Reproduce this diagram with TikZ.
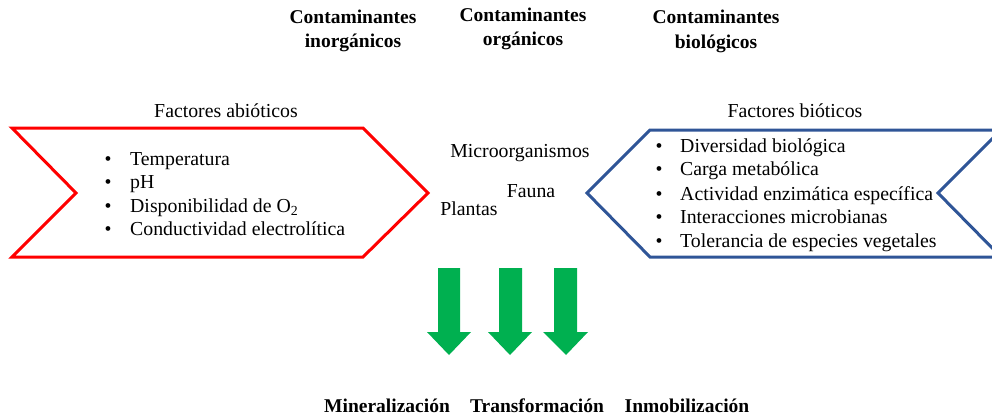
\documentclass[tikz,border=0pt]{standalone}
\usepackage{fontspec}
\setmainfont{Liberation Serif}
\definecolor{redline}{HTML}{FF0000}
\definecolor{blueline}{HTML}{2F5597}
\definecolor{arrowgreen}{HTML}{00B050}
\tikzset{
  txt/.style={inner sep=0pt, anchor=base, font=\fontsize{19.8}{23}\selectfont},
  hdr/.style={txt, font=\fontsize{19.5}{23}\selectfont\bfseries},
  item/.style={txt, anchor=base west},
  bul/.style={txt},
  chevred/.style={draw=redline, line width=3pt, line join=miter},
  chevblue/.style={draw=blueline, line width=3pt, line join=miter},
  greenarrow/.style={fill=arrowgreen, draw=none}
}
\begin{document}
\begin{tikzpicture}[x=1pt,y=-1pt]
\useasboundingbox (0,0) rectangle (992,418);
\clip (0,0) rectangle (992,418);

% headers
\node[hdr] (h1a) at (353,23) {Contaminantes};
\node[hdr] (h1b) at (353,47) {inorgánicos};
\node[hdr] (h2a) at (523,21) {Contaminantes};
\node[hdr] (h2b) at (523,45) {orgánicos};
\node[hdr] (h3a) at (716,23) {Contaminantes};
\node[hdr] (h3b) at (716,48) {biológicos};

% titles
\node[txt] (fab) at (226,117) {Factores abióticos};
\node[txt] (fbi) at (795,117) {Factores bióticos};

% left chevron
\draw[chevred] (12,128) -- (363,128) -- (428,193) -- (363,257) -- (12,257) -- (76,193) -- cycle;
% right chevron
\draw[chevblue] (650,130) -- (1001,130) -- (938,193) -- (1001,257) -- (650,257) -- (587,193) -- cycle;

% left list
\foreach \t/\y [count=\i] in {Temperatura/165, pH/188, {Disponibilidad de O\textsubscript{2}}/212, Conductividad electrolítica/235}{
  \node[bul] (lb\i) at (108,\y) {•};
  \node[item] (li\i) at (130,\y) {\t};
}
% right list
\foreach \t/\y [count=\i] in {Diversidad biológica/152, Carga metabólica/175, Actividad enzimática específica/200, Interacciones microbianas/223, Tolerancia de especies vegetales/247}{
  \node[bul] (rb\i) at (659,\y) {•};
  \node[item] (ri\i) at (680,\y) {\t};
}

% middle
\node[txt] (micro) at (520,157) {Microorganismos};
\node[txt] (fauna) at (531,197) {Fauna};
\node[txt] (plant) at (469,215) {Plantas};

% arrows
\fill[greenarrow] (438,268) -- (460,268) -- (460,332) -- (471,332) -- (449,355) -- (427,332) -- (438,332) -- cycle;
\fill[greenarrow] (499,268) -- (522,268) -- (522,332) -- (532,332) -- (510,355) -- (488,332) -- (499,332) -- cycle;
\fill[greenarrow] (554,268) -- (577,268) -- (577,332) -- (588,332) -- (566,355) -- (543,332) -- (554,332) -- cycle;

% bottom
\node[hdr] (min) at (387,412) {Mineralización};
\node[hdr] (tra) at (537,412) {Transformación};
\node[hdr] (inm) at (687,412) {Inmobilización};
\end{tikzpicture}
\end{document}
